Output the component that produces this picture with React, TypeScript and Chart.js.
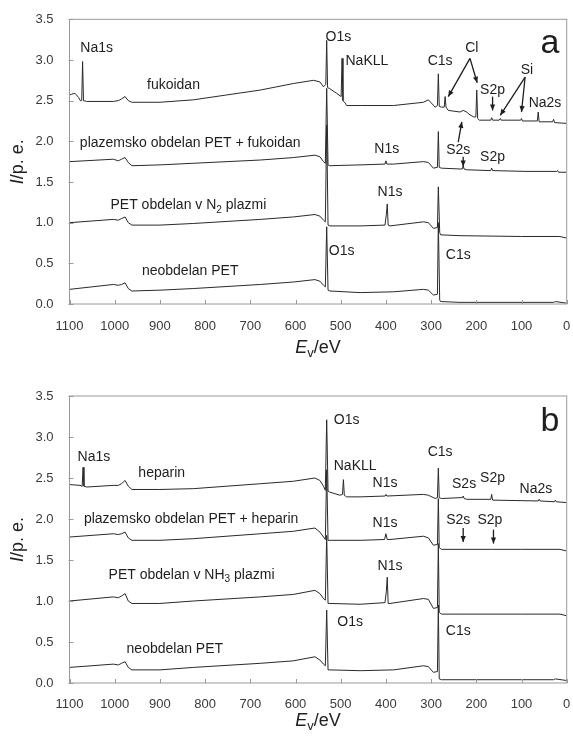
import { useEffect, useRef } from 'react';
import { Chart, registerables } from 'chart.js';
Chart.register(...registerables);

type P = [number, number];

// ---------- Panel a (fukoidan) ----------
const fukoidanA: P[] = [[1100,2.57],[1095,2.58],[1088,2.59],[1080,2.54],[1076,2.50],[1073,2.50],[1071,2.98],[1069,2.50],[1062,2.49],[1003,2.49],[992,2.50],[985,2.52],[977,2.55],[970,2.50],[962,2.48],[900,2.48],[826,2.51],[752,2.57],[678,2.63],[605,2.71],[560,2.75],[546,2.73],[538,2.67],[533,2.70],[531,3.24],[529,2.66],[525,2.65],[509,2.59],[499,2.55],[497,3.02],[495,2.50],[490,2.47],[487,2.44],[457,2.44],[383,2.44],[317,2.48],[306,2.51],[291,2.42],[286,2.44],[284,2.83],[282,2.43],[277,2.42],[271,2.42],[269,2.55],[267,2.42],[262,2.38],[236,2.36],[229,2.38],[221,2.36],[218,2.34],[206,2.30],[201,2.30],[199,2.63],[197,2.28],[193,2.26],[168,2.26],[166,2.29],[164,2.26],[149,2.26],[147,2.28],[145,2.26],[102,2.26],[100,2.28],[98,2.25],[65,2.25],[63,2.36],[61,2.24],[31,2.24],[29,2.27],[27,2.23],[0,2.22]];
const plasmaFukoidanA: P[] = [[1100,1.75],[1003,1.78],[992,1.76],[985,1.78],[977,1.80],[970,1.74],[962,1.70],[900,1.71],[826,1.73],[678,1.77],[605,1.80],[557,1.83],[546,1.81],[538,1.75],[534,1.73],[531,2.65],[528,1.71],[524,1.70],[457,1.71],[402,1.72],[400,1.76],[398,1.72],[383,1.72],[317,1.75],[306,1.74],[295,1.67],[286,1.68],[284,2.12],[282,1.68],[277,1.67],[236,1.66],[231,1.66],[229,1.70],[227,1.66],[221,1.65],[168,1.64],[166,1.67],[164,1.64],[88,1.63],[22,1.63],[20,1.64],[18,1.62],[0,1.62]];
const n2PlasmaA: P[] = [[1100,1.00],[1003,1.04],[992,1.03],[985,1.05],[977,1.07],[970,1.00],[962,0.97],[900,0.97],[826,0.99],[678,1.04],[605,1.07],[557,1.10],[546,1.08],[538,1.03],[534,1.01],[531,2.20],[528,0.97],[524,0.96],[457,0.96],[402,0.97],[399,1.10],[397,1.23],[395,0.97],[391,0.96],[317,1.01],[306,1.00],[295,0.93],[286,0.94],[284,1.44],[281,0.88],[279,0.85],[236,0.84],[100,0.83],[15,0.83],[0,0.81]];
const untreatedA: P[] = [[1100,0.18],[1003,0.24],[992,0.23],[985,0.24],[977,0.26],[970,0.19],[962,0.16],[900,0.17],[826,0.19],[678,0.24],[605,0.27],[557,0.30],[546,0.28],[538,0.23],[534,0.21],[531,0.95],[528,0.17],[524,0.16],[457,0.14],[383,0.15],[317,0.18],[306,0.17],[295,0.11],[286,0.12],[284,1.00],[281,0.05],[279,0.03],[236,0.02],[29,0.02],[25,0.03],[0,0.01]];

// ---------- Panel b (heparin) ----------
const heparinB: P[] = [[1100,2.42],[1077,2.41],[1072,2.40],[1070,2.63],[1068,2.40],[1062,2.39],[1003,2.41],[992,2.41],[985,2.43],[977,2.47],[970,2.40],[962,2.36],[900,2.36],[826,2.37],[678,2.43],[605,2.46],[557,2.50],[546,2.47],[538,2.40],[534,2.35],[531,3.21],[528,2.34],[525,2.33],[502,2.29],[496,2.30],[494,2.48],[492,2.29],[487,2.27],[457,2.27],[402,2.28],[400,2.30],[398,2.28],[317,2.30],[306,2.29],[291,2.25],[286,2.26],[284,2.62],[282,2.26],[277,2.25],[236,2.26],[231,2.26],[229,2.28],[227,2.25],[221,2.24],[168,2.24],[166,2.30],[164,2.23],[63,2.22],[61,2.24],[59,2.22],[27,2.21],[25,2.23],[23,2.21],[0,2.20]];
const plasmaHeparinB: P[] = [[1100,1.78],[1003,1.82],[992,1.81],[985,1.82],[977,1.84],[970,1.77],[962,1.74],[900,1.74],[826,1.76],[678,1.82],[605,1.85],[557,1.89],[546,1.84],[538,1.78],[534,1.75],[531,2.60],[528,1.74],[524,1.74],[457,1.74],[403,1.75],[400,1.82],[397,1.75],[391,1.75],[317,1.79],[306,1.77],[295,1.68],[286,1.69],[284,2.25],[282,1.65],[277,1.63],[236,1.63],[166,1.63],[100,1.63],[15,1.63],[0,1.61]];
const nh3PlasmaB: P[] = [[1100,1.00],[1003,1.05],[992,1.04],[985,1.06],[977,1.09],[970,1.00],[962,0.97],[900,0.97],[826,1.00],[678,1.05],[605,1.08],[557,1.13],[546,1.09],[538,1.03],[534,1.01],[531,1.80],[528,0.97],[524,0.97],[457,0.96],[402,0.98],[399,1.12],[397,1.29],[395,0.97],[391,0.97],[317,1.03],[306,1.02],[295,0.91],[286,0.92],[284,1.70],[282,0.86],[277,0.84],[236,0.84],[100,0.84],[15,0.84],[0,0.82]];
const untreatedB: P[] = [[1100,0.19],[1003,0.23],[992,0.22],[985,0.24],[977,0.26],[970,0.19],[962,0.16],[900,0.16],[826,0.19],[678,0.24],[605,0.27],[557,0.32],[546,0.28],[538,0.23],[534,0.21],[531,0.89],[528,0.16],[524,0.16],[457,0.15],[383,0.16],[317,0.21],[306,0.20],[295,0.13],[286,0.14],[284,0.95],[282,0.05],[277,0.04],[100,0.04],[29,0.04],[25,0.05],[0,0.03]];

// ---------- Axes ----------
const xTicks = [0, 100, 200, 300, 400, 500, 600, 700, 800, 900, 1000, 1100];
const yTicks = [0, 0.5, 1, 1.5, 2, 2.5, 3, 3.5];

type Seg = { t: string; sub?: boolean; it?: boolean };
type Label = { x: number; y: number; text: Seg[]; size?: number };
type Arrow = [number, number, number, number];

const s = (t: string): Seg[] => [{ t }];

const labelsA: Label[] = [
  { x: 1040, y: 3.14, text: s('Na1s') },
  { x: 870, y: 2.69, text: s('fukoidan') },
  { x: 505, y: 3.28, text: s('O1s') },
  { x: 442, y: 2.98, text: s('NaKLL') },
  { x: 280, y: 2.98, text: s('C1s') },
  { x: 210, y: 3.14, text: s('Cl') },
  { x: 88, y: 2.87, text: s('Si') },
  { x: 164, y: 2.63, text: s('S2p') },
  { x: 48, y: 2.47, text: s('Na2s') },
  { x: 833, y: 1.98, text: s('plazemsko obdelan PET + fukoidan') },
  { x: 398, y: 1.90, text: s('N1s') },
  { x: 240, y: 1.89, text: s('S2s') },
  { x: 164, y: 1.80, text: s('S2p') },
  { x: 837, y: 1.21, text: [{ t: 'PET obdelan v N' }, { t: '2', sub: true }, { t: ' plazmi' }] },
  { x: 391, y: 1.37, text: s('N1s') },
  { x: 498, y: 0.65, text: s('O1s') },
  { x: 833, y: 0.40, text: s('neobdelan PET') },
  { x: 240, y: 0.60, text: s('C1s') },
  { x: 37, y: 3.20, text: s('a'), size: 34 },
];
const arrowsA: Arrow[] = [
  [214, 3.02, 262, 2.55],
  [214, 3.02, 198, 2.72],
  [92, 2.79, 147, 2.32],
  [92, 2.79, 100, 2.36],
  [164, 2.55, 164, 2.38],
  [240, 1.99, 232, 2.24],
  [229, 1.81, 229, 1.69],
];
const labelsB: Label[] = [
  { x: 487, y: 3.20, text: s('O1s') },
  { x: 37, y: 3.19, text: s('b'), size: 34 },
  { x: 1046, y: 2.76, text: s('Na1s') },
  { x: 896, y: 2.56, text: s('heparin') },
  { x: 468, y: 2.65, text: s('NaKLL') },
  { x: 280, y: 2.82, text: s('C1s') },
  { x: 402, y: 2.44, text: s('N1s') },
  { x: 227, y: 2.43, text: s('S2s') },
  { x: 164, y: 2.50, text: s('S2p') },
  { x: 68, y: 2.37, text: s('Na2s') },
  { x: 831, y: 2.00, text: s('plazemsko obdelan PET + heparin') },
  { x: 402, y: 1.95, text: s('N1s') },
  { x: 240, y: 1.99, text: s('S2s') },
  { x: 170, y: 1.99, text: s('S2p') },
  { x: 830, y: 1.32, text: [{ t: 'PET obdelan v NH' }, { t: '3', sub: true }, { t: ' plazmi' }] },
  { x: 391, y: 1.42, text: s('N1s') },
  { x: 479, y: 0.74, text: s('O1s') },
  { x: 867, y: 0.41, text: s('neobdelan PET') },
  { x: 240, y: 0.63, text: s('C1s') },
];
const arrowsB: Arrow[] = [
  [229, 1.89, 229, 1.72],
  [162, 1.87, 162, 1.70],
];

const FONT = '"Liberation Sans", Arial, Helvetica, sans-serif';
const W = 573;
const H = 371;
const LEFT = 69.5;
const RIGHT_PAD = 6.3;

function segFont(size: number, seg: Seg) {
  const sz = seg.sub ? size * 0.72 : size;
  return `${seg.it ? 'italic ' : ''}${sz}px ${FONT}`;
}

function drawRich(ctx: CanvasRenderingContext2D, segs: Seg[], cx: number, cy: number, size: number) {
  let total = 0;
  const widths = segs.map((sg) => {
    ctx.font = segFont(size, sg);
    const w = ctx.measureText(sg.t).width;
    total += w;
    return w;
  });
  let x = cx - total / 2;
  ctx.textAlign = 'left';
  ctx.textBaseline = 'middle';
  segs.forEach((sg, i) => {
    ctx.font = segFont(size, sg);
    ctx.fillText(sg.t, x, sg.sub ? cy + size * 0.3 : cy);
    x += widths[i];
  });
}

function makePlugin(labels: Label[], arrows: Arrow[], titleOffset: number) {
  return {
    id: 'xpsDecor',
    afterDatasetsDraw(chart: any) {
      const { ctx, chartArea: a, scales } = chart;
      const xs = scales.x;
      const ys = scales.y;
      ctx.save();
      // frame
      ctx.strokeStyle = '#9a9a9a';
      ctx.lineWidth = 1;
      ctx.strokeRect(a.left, a.top, a.right - a.left, a.bottom - a.top);
      // inner ticks
      ctx.beginPath();
      xTicks.forEach((v) => {
        const px = Math.round(xs.getPixelForValue(v)) + 0.5;
        ctx.moveTo(px, a.bottom);
        ctx.lineTo(px, a.bottom - 4);
      });
      yTicks.forEach((v) => {
        const py = Math.round(ys.getPixelForValue(v)) + 0.5;
        ctx.moveTo(a.left - 1, py);
        ctx.lineTo(a.left + 4, py);
      });
      ctx.stroke();
      // labels
      ctx.fillStyle = '#1e1e1e';
      labels.forEach((l) => {
        drawRich(ctx, l.text, xs.getPixelForValue(l.x), ys.getPixelForValue(l.y), l.size ?? 14);
      });
      // arrows
      ctx.strokeStyle = '#1e1e1e';
      ctx.lineWidth = 1.3;
      arrows.forEach(([x1, y1, x2, y2]) => {
        const p1x = xs.getPixelForValue(x1);
        const p1y = ys.getPixelForValue(y1);
        const p2x = xs.getPixelForValue(x2);
        const p2y = ys.getPixelForValue(y2);
        ctx.beginPath();
        ctx.moveTo(p1x, p1y);
        ctx.lineTo(p2x, p2y);
        ctx.stroke();
        const ang = Math.atan2(p2y - p1y, p2x - p1x);
        const hl = 6;
        const hw = 2.6;
        ctx.beginPath();
        ctx.moveTo(p2x, p2y);
        ctx.lineTo(p2x - hl * Math.cos(ang) + hw * Math.sin(ang), p2y - hl * Math.sin(ang) - hw * Math.cos(ang));
        ctx.lineTo(p2x - hl * Math.cos(ang) - hw * Math.sin(ang), p2y - hl * Math.sin(ang) + hw * Math.cos(ang));
        ctx.closePath();
        ctx.fill();
      });
      // axis titles
      ctx.fillStyle = '#222';
      drawRich(ctx, [{ t: 'E', it: true }, { t: 'v', sub: true }, { t: '/eV' }], (a.left + a.right) / 2, a.bottom + titleOffset, 18);
      ctx.translate(18, (a.top + a.bottom) / 2);
      ctx.rotate(-Math.PI / 2);
      drawRich(ctx, [{ t: 'I', it: true }, { t: '/p. e.' }], 0, 0, 18);
      ctx.restore();
    },
  };
}

function Panel({ series, labels, arrows, top, bottom, tickPad, titleOffset }: { series: P[][]; labels: Label[]; arrows: Arrow[]; top: number; bottom: number; tickPad: number; titleOffset: number }) {
  const ref = useRef<HTMLCanvasElement | null>(null);
  useEffect(() => {
    if (!ref.current) return;
    const chart = new Chart(ref.current, {
      type: 'line',
      data: {
        datasets: series.map((d) => ({
          data: d.map(([x, y]) => ({ x, y })),
          borderColor: '#2a2a2a',
          borderWidth: 1,
          pointRadius: 0,
          tension: 0,
          fill: false,
        })),
      },
      options: {
        responsive: false,
        animation: false,
        devicePixelRatio: 1,
        layout: { padding: { left: 0, top, right: RIGHT_PAD, bottom: 0 } },
        plugins: { legend: { display: false }, tooltip: { enabled: false } },
        scales: {
          x: {
            type: 'linear',
            reverse: true,
            min: 0,
            max: 1100,
            grid: { display: false },
            border: { display: false },
            afterBuildTicks: (sc: any) => {
              sc.ticks = xTicks.map((v) => ({ value: v }));
            },
            afterFit: (sc: any) => {
              sc.height = H - bottom;
            },
            ticks: {
              autoSkip: false,
              maxRotation: 0,
              padding: tickPad,
              color: '#3a3a3a',
              font: { family: FONT, size: 13 },
              callback: (v: any) => String(v),
            },
          },
          y: {
            type: 'linear',
            min: 0,
            max: 3.5,
            grid: { display: false },
            border: { display: false },
            afterBuildTicks: (sc: any) => {
              sc.ticks = yTicks.map((v) => ({ value: v }));
            },
            afterFit: (sc: any) => {
              sc.width = LEFT;
            },
            ticks: {
              padding: 8,
              color: '#3a3a3a',
              font: { family: FONT, size: 13 },
              callback: (v: any) => Number(v).toFixed(1),
            },
          },
        },
      },
      plugins: [makePlugin(labels, arrows, titleOffset)],
    } as any);
    return () => chart.destroy();
  }, []);
  return <canvas ref={ref} width={W} height={H} style={{ display: 'block', width: W, height: H }} />;
}

export default function App() {
  return (
    <div style={{ position: 'absolute', left: 0, top: 0, width: W, height: 742, background: '#fff' }}>
      <Panel series={[fukoidanA, plasmaFukoidanA, n2PlasmaA, untreatedA]} labels={labelsA} arrows={arrowsA} top={19.3} bottom={304} tickPad={7} titleOffset={44} />
      <Panel series={[heparinB, plasmaHeparinB, nh3PlasmaB, untreatedB]} labels={labelsB} arrows={arrowsB} top={25} bottom={312} tickPad={6} titleOffset={38} />
    </div>
  );
}
